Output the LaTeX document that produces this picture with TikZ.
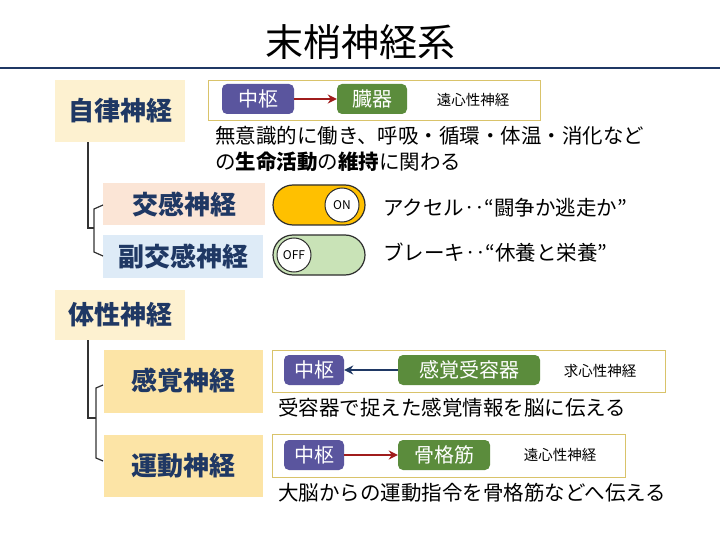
\documentclass[tikz,border=0pt]{standalone}
\usepackage{fontspec}
\setmainfont{Noto Sans CJK JP}
\usetikzlibrary{arrows.meta}
\begin{document}
\begin{tikzpicture}[x=1pt,y=-1pt,
 cat/.style={fill=#1,draw=none,font=\bfseries\fontsize{26}{26}\selectfont,text=navy,inner sep=0},
 pill/.style={fill=#1,rounded corners=5pt,text=white,font=\fontsize{20}{20}\selectfont,inner sep=0},
 frame/.style={draw=ybord,line width=0.8pt,fill=white},
 desc/.style={anchor=west,font=\fontsize{20.5}{20.5}\selectfont,inner sep=0},
 small/.style={font=\fontsize{14.5}{14.5}\selectfont,inner sep=0},
 tree/.style={draw=darkgray!80!black,line width=1.2pt},
 arr/.style={line width=1.6pt,-{Stealth[length=9pt,width=9pt]}},
 knob/.style={circle,draw=darkgray!70!black,line width=1pt,fill=white,minimum size=34pt,inner sep=0,font=\fontsize{12}{12}\selectfont}]
\definecolor{navy}{HTML}{1F3864}
\definecolor{ybord}{HTML}{D9C36A}
\definecolor{ltyel}{HTML}{FDF1D0}
\definecolor{yel}{HTML}{FCE4A6}
\definecolor{pinkb}{HTML}{FBE5D6}
\definecolor{blueb}{HTML}{DEEBF7}
\definecolor{purp}{HTML}{5A559E}
\definecolor{grn}{HTML}{5B8C3C}
\definecolor{darkred}{HTML}{A01C1C}
\definecolor{orng}{HTML}{FFC000}
\definecolor{lgrn}{HTML}{C9E3B7}
\useasboundingbox (0,0) rectangle (720,540);
\fill[white] (0,0) rectangle (720,540);
\node[font=\fontsize{38}{38}\selectfont,inner sep=0] (title) at (360,42) {末梢神経系};
\draw[navy,line width=1.8pt] (0,68) coordinate (l1) -- (720,68) coordinate (l2);
% autonomic
\node[cat=ltyel,minimum width=130pt,minimum height=62pt] (auto) at (120,111) {自律神経};
\node[frame,minimum width=332pt,minimum height=40pt] (f1) at (374,100) {};
\node[pill=purp,minimum width=72pt,minimum height=30pt] (c1) at (258,99) {中枢};
\node[pill=grn,minimum width=70pt,minimum height=30pt] (o1) at (372,99) {臓器};
\draw[darkred,arr] (c1) -- (o1);
\node[small] (e1) at (473,100) {遠心性神経};
\node[desc] (d1) at (215,136) {無意識的に働き、呼吸・循環・体温・消化など};
\node[desc] (d2) at (215,162) {の\textbf{生命活動}の\textbf{維持}に関わる};
\node[cat=pinkb,minimum width=162pt,minimum height=42pt] (sym) at (184,204) {交感神経};
\node[cat=blueb,minimum width=160pt,minimum height=43pt] (para) at (183,256) {副交感神経};
\node[draw=darkgray!70!black,line width=1.2pt,fill=orng,rounded corners=20pt,minimum width=92pt,minimum height=40pt] (t1) at (319,205) {};
\node[knob] (k1) at (342,205) {ON};
\node[draw=darkgray!70!black,line width=1.2pt,fill=lgrn,rounded corners=20pt,minimum width=92pt,minimum height=40pt] (t2) at (319,255) {};
\node[knob] (k2) at (294,255) {OFF};
\node[desc] (a1) at (383,208) {アクセル‥“闘争か逃走か”};
\node[desc] (a2) at (383,253) {ブレーキ‥“休養と栄養”};
\coordinate (v1) at (88,228);
\draw[tree] (auto.south -| v1) -- (v1) -- (94,228);
\draw[tree] (103,205) -- (94,209) -- (94,252) -- (103,256);
% somatic
\node[cat=ltyel,minimum width=130pt,minimum height=50pt] (soma) at (120,315) {体性神経};
\node[cat=yel,minimum width=159pt,minimum height=63pt] (sens) at (183,381) {感覚神経};
\node[cat=yel,minimum width=159pt,minimum height=62pt] (mot) at (183,466) {運動神経};
\coordinate (v2) at (88,418);
\draw[tree] (soma.south -| v2) -- (v2) -- (96,418);
\draw[tree] (103,385) -- (96,388) -- (96,458) -- (103,461);
\node[frame,minimum width=393pt,minimum height=42pt] (f2) at (468.5,371) {};
\node[pill=purp,minimum width=60pt,minimum height=30pt] (c2) at (314,370) {中枢};
\node[pill=grn,minimum width=142pt,minimum height=30pt] (r2) at (469,370) {感覚受容器};
\draw[navy,arr] (r2) -- (c2);
\node[small] (e2) at (600,371) {求心性神経};
\node[desc] (d3) at (278,408) {受容器で捉えた感覚情報を脳に伝える};
\node[frame,minimum width=353pt,minimum height=43pt] (f3) at (448.5,456) {};
\node[pill=purp,minimum width=60pt,minimum height=30pt] (c3) at (314,455) {中枢};
\node[pill=grn,minimum width=92pt,minimum height=30pt] (m3) at (444,455) {骨格筋};
\draw[darkred,arr] (c3) -- (m3);
\node[small] (e3) at (560,455) {遠心性神経};
\node[desc] (d4) at (278,493) {大脳からの運動指令を骨格筋などへ伝える};
\end{tikzpicture}
\end{document}
